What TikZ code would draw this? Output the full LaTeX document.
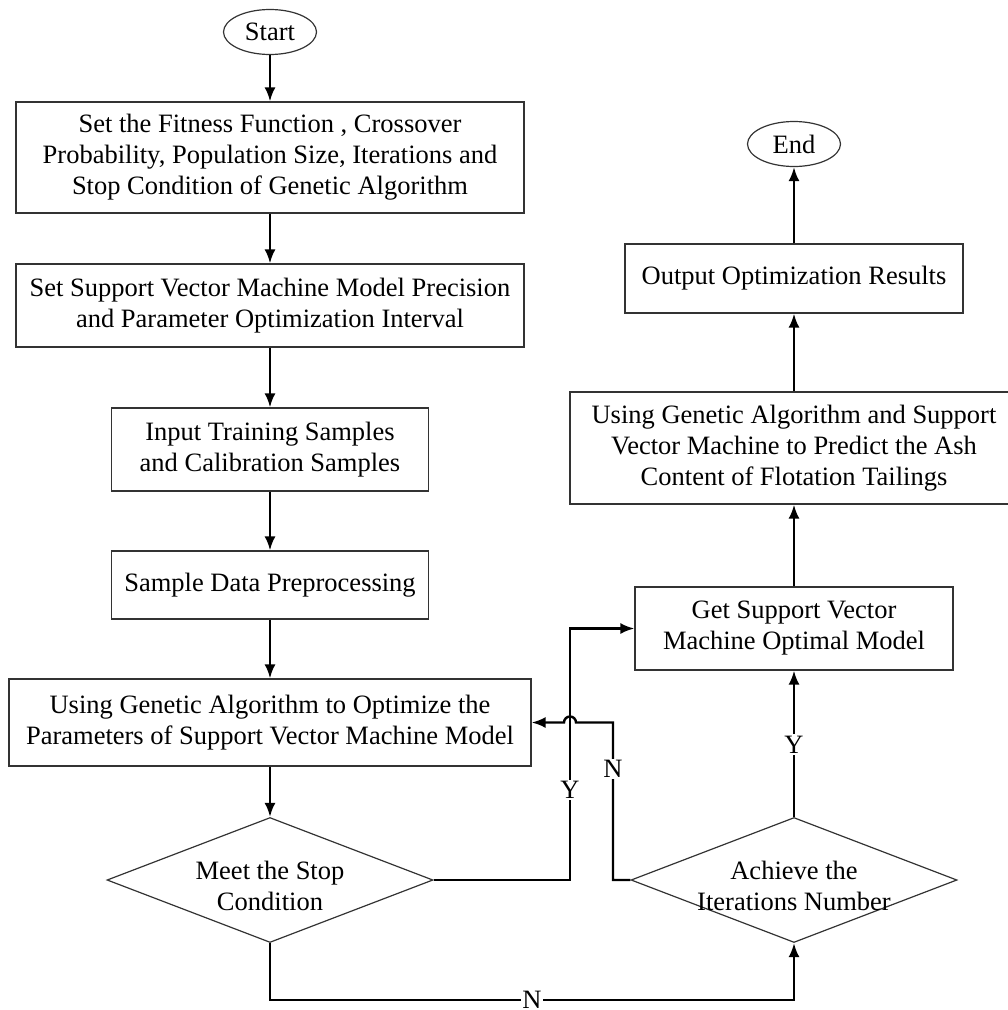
\documentclass[tikz,border=0pt]{standalone}
\usepackage{fontspec}
\setmainfont{Liberation Serif}
\usetikzlibrary{shapes.geometric,arrows.meta}
\tikzset{
  flowbox/.style={draw=black!80,line width=1.2pt,align=center,inner sep=0pt},
  term/.style={ellipse,draw=black!80,line width=1.2pt,inner sep=0pt,minimum width=93pt,minimum height=45pt},
  decision/.style={diamond,draw=black!80,line width=1.2pt,inner sep=0pt,minimum width=326pt,minimum height=125pt},
  lab/.style={fill=white,inner sep=1.5pt}
}
\begin{document}
\begin{tikzpicture}[>={Latex[length=14pt,width=11pt]},x=1pt,y=-1pt,line width=2.4pt,
    font=\fontsize{26.5}{31}\selectfont]
    \useasboundingbox (0,0) rectangle (1008,1010);
    % left column
    \node [term] (start) at (270,32) {Start};
    \node [flowbox,minimum width=508pt,minimum height=111pt] (setga) at (270,157.5)
        {Set the Fitness Function , Crossover\\Probability, Population Size, Iterations and\\Stop Condition of Genetic Algorithm};
    \node [flowbox,minimum width=508pt,minimum height=83pt] (setsvm) at (270,305.5)
        {Set Support Vector Machine Model Precision\\and Parameter Optimization Interval};
    \node [flowbox,minimum width=317pt,minimum height=83pt] (input) at (270,449.5)
        {Input Training Samples\\and Calibration Samples};
    \node [flowbox,minimum width=317pt,minimum height=68pt] (prep) at (270,585)
        {Sample Data Preprocessing};
    \node [flowbox,minimum width=522pt,minimum height=87pt] (optim) at (270,722.5)
        {Using Genetic Algorithm to Optimize the\\Parameters of Support Vector Machine Model};
    \node [decision] (stop) at (270,880) {};
    \node [align=center,inner sep=0pt] (stoptext) at (270,886) {Meet the Stop\\Condition};
    % right column
    \node [term] (end) at (794,144) {End};
    \node [flowbox,minimum width=338pt,minimum height=69pt] (output) at (794,278.5)
        {Output Optimization Results};
    \node [flowbox,minimum width=448pt,minimum height=112pt] (predict) at (794,448)
        {Using Genetic Algorithm and Support\\Vector Machine to Predict the Ash\\Content of Flotation Tailings};
    \node [flowbox,minimum width=318pt,minimum height=83pt] (get) at (794,628.5)
        {Get Support Vector\\Machine Optimal Model};
    \node [decision] (iter) at (794,880) {};
    \node [align=center,inner sep=0pt] (itertext) at (794,886) {Achieve the\\Iterations Number};
    % bends
    \coordinate (ybend) at (570,880);
    \coordinate (nbend) at (613,880);
    \coordinate (bot) at (532,1000);

    \foreach \a/\b in {start/setga,setga/setsvm,setsvm/input,input/prep,prep/optim,optim/stop,
                       iter/get,get/predict,predict/output,output/end}
        \draw [->] (\a) -- (\b);
    \draw [->] (stop.east) -- (ybend) |- (get.west);
    \draw [->] (iter.west) -- (nbend) |- ([xshift=6pt]ybend |- optim.east)
        arc [start angle=0,end angle=180,radius=6pt] -- (optim.east);
    \draw [->] (stop.south) |- (bot) -| (iter.south);

    \node [lab] (ylabel) at (570,790) {Y};
    \node [lab] (nlabel) at (613,769) {N};
    \node [lab] (yitlabel) at (794,744.5) {Y};
    \node [lab] (nbotlabel) at (bot) {N};
\end{tikzpicture}
\end{document}
